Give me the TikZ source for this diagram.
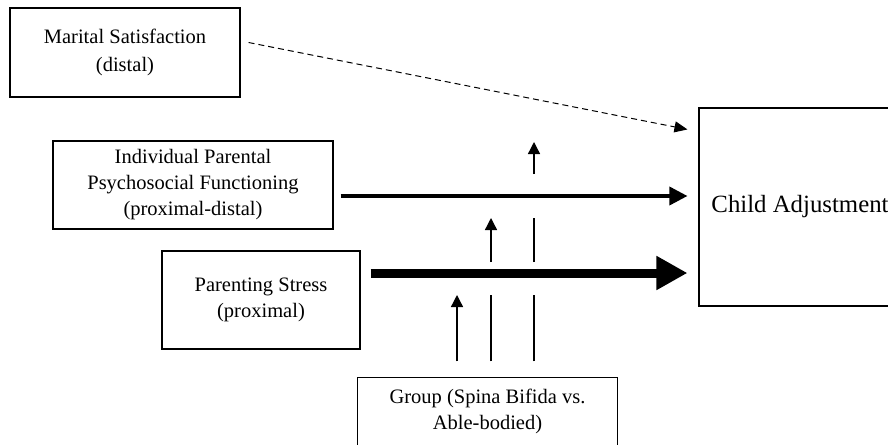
\documentclass[tikz,border=0pt]{standalone}
\usepackage{fontspec}
\setmainfont{Liberation Serif}
\usetikzlibrary{arrows.meta,positioning}

\begin{document}
\begin{tikzpicture}[
  x=1pt,y=-1pt,
  font=\fontsize{20.5}{26}\selectfont,
  vbox/.style={draw,line width=1.1pt,align=center,inner sep=0pt},
  dasharr/.style={-{Triangle[length=13pt,width=11pt]},line width=1pt,
                  dash pattern=on 6pt off 4pt},
  medarr/.style={-{Triangle[length=18pt,width=18pt]},line width=3.5pt},
  bigarr/.style={-{Triangle[length=31pt,width=32pt]},line width=9pt},
  modarr/.style={-{Triangle[length=12pt,width=12pt]},line width=1.3pt},
  modline/.style={line width=1.3pt},
]
\useasboundingbox (0,0) rectangle (888,444);

\node[vbox,minimum width=230,minimum height=89,
      font=\fontsize{20.5}{28.5}\selectfont] (marital) at (125,52.5)
  {Marital Satisfaction\\(distal)};
\node[vbox,minimum width=280,minimum height=88] (ind) at (193,185)
  {Individual Parental\\Psychosocial Functioning\\(proximal-distal)};
\node[vbox,minimum width=198,minimum height=98] (par) at (261,300)
  {Parenting Stress\\(proximal)};
\node[vbox,minimum width=202,minimum height=198,
      font=\fontsize{24.8}{30}\selectfont] (child) at (800,207)
  {Child Adjustment};
\node[vbox,draw=none,minimum width=259,minimum height=66] (group) at (487.5,411)
  {Group (Spina Bifida vs.\\Able-bodied)};
% open at the bottom edge
\draw[line width=1.1pt] ([yshift=-12pt]group.south west) -- (group.north west)
  -- (group.north east) -- ([yshift=-12pt]group.south east);

% main paths
\coordinate (ylI) at (0,196);
\coordinate (ylP) at (0,273);
\draw[dasharr] ([xshift=8pt,yshift=10pt]marital.east)
  -- ([xshift=-11pt,yshift=-22pt]child.north west);
\draw[medarr,shorten <=7pt,shorten >=11pt] (ind.east |- ylI) -- (child.west |- ylI);
\draw[bigarr,shorten <=10pt,shorten >=11pt] (par.east |- ylP) -- (child.west |- ylP);

% moderation by group
\coordinate (tipP) at (457,295);
\coordinate (tipI) at (491,218);
\coordinate (tipM) at (534,142);
\coordinate (aboveP) at (0,262);
\coordinate (aboveI) at (0,174);
\draw[modarr,shorten <=16pt] (group.north -| tipP) -- (tipP);
\draw[modline,shorten <=16pt] (group.north -| tipI) -- (tipP -| tipI);
\draw[modarr] (aboveP -| tipI) -- (tipI);
\draw[modline,shorten <=16pt] (group.north -| tipM) -- (tipP -| tipM);
\draw[modline] (aboveP -| tipM) -- (tipI -| tipM);
\draw[modarr] (aboveI -| tipM) -- (tipM);
\end{tikzpicture}
\end{document}
